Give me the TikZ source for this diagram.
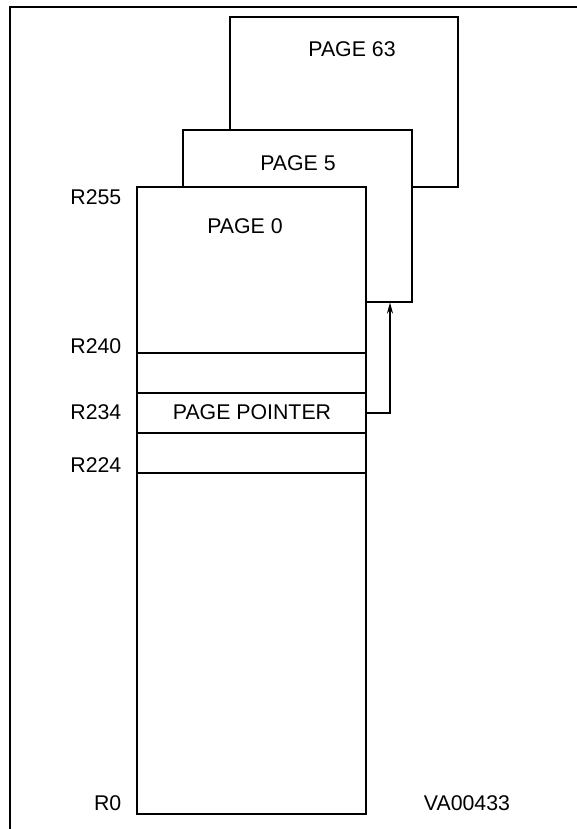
\documentclass[tikz,border=0pt]{standalone}
\usepackage{fontspec}
\setmainfont{Liberation Sans}
\usetikzlibrary{arrows.meta}
\begin{document}
\begin{tikzpicture}[x=1pt,y=-1pt,
  box/.style={draw=black,fill=white,line width=2pt,rectangle,inner sep=0pt},
  txt/.style={inner sep=0pt,font=\fontsize{21.3}{25}\selectfont},
  lbl/.style={txt,anchor=east},
  wire/.style={line width=2pt}]
\useasboundingbox (0,0) rectangle (577,829);
\coordinate (fbl) at (10,829);
\coordinate (ftl) at (10,6.7);
\coordinate (ftr) at (577,6.7);
\draw[wire] (fbl) -- (ftl) -- (ftr);
% page 63
\node[box,minimum width=228pt,minimum height=169pt] (p63) at (344,102) {};
\node[txt] (t63) at (352,49) {PAGE 63};
% page 5
\node[box,minimum width=229pt,minimum height=171pt] (p5) at (297.5,216) {};
\node[txt] (t5) at (298,163) {PAGE 5};
% page 0
\node[box,minimum width=229pt,minimum height=627pt] (p0) at (251.75,500.5) {};
\node[txt] (t0) at (245,226) {PAGE 0};
% rows
\node[box,minimum width=229pt,minimum height=40pt] (r1) at (251.75,373) {};
\node[box,minimum width=229pt,minimum height=40pt] (ptr) at (251.75,413) {};
\node[box,minimum width=229pt,minimum height=40pt] (r3) at (251.75,453) {};
\node[txt] (tptr) at (252,412) {PAGE POINTER};
% arrow
\coordinate (bend) at (390,413);
\draw[wire,-{Stealth[length=11pt,width=6pt]}] (ptr.east) -- (bend) -- (bend |- p5.south);
% labels
\node[lbl] (l255) at (121.5,197) {R255};
\node[lbl] (l240) at (121.5,346) {R240};
\node[lbl] (l234) at (121.5,412) {R234};
\node[lbl] (l224) at (121.5,465) {R224};
\node[lbl] (l0) at (121.5,803) {R0};
\node[txt] (va) at (467,803) {VA00433};
\end{tikzpicture}
\end{document}
